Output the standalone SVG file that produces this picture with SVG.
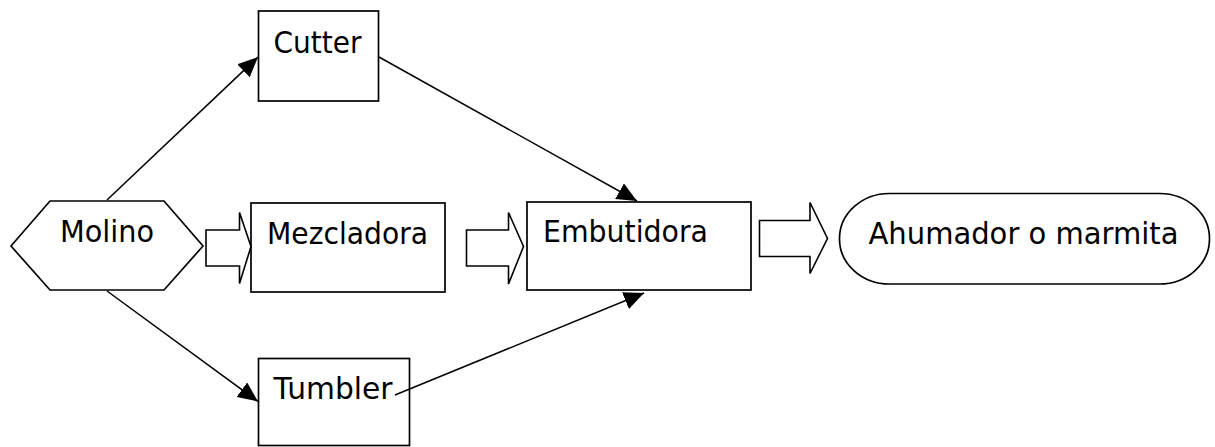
<svg xmlns="http://www.w3.org/2000/svg" width="1215" height="447" viewBox="0 0 1215 447">
<style>
.n{fill:#fff;stroke:#000;stroke-width:1.7}
.t{font-family:"DejaVu Sans",Verdana,sans-serif;font-size:31px;fill:#000}
.c{fill:none;stroke:#000;stroke-width:1.5}
.b{fill:#fff;stroke:#000;stroke-width:1.6;stroke-linejoin:miter}
</style>
<defs>
<marker id="ah" viewBox="0 0 20 18" refX="20" refY="9" markerWidth="20" markerHeight="18" markerUnits="userSpaceOnUse" orient="auto">
<path d="M0,0 L20,9 L0,18 z" fill="#000"/>
</marker>
</defs>
<rect width="1215" height="447" fill="#fff"/>
<g id="molino">
<polygon class="n" points="11,246 50,201 164,201 203,246 164,290 50,290"/>
<text class="t" x="60" y="242" textLength="94" lengthAdjust="spacingAndGlyphs">Molino</text>
</g>
<g id="cutter">
<rect class="n" x="258.5" y="11" width="120" height="90"/>
<text class="t" x="273.5" y="52.5" textLength="88" lengthAdjust="spacingAndGlyphs">Cutter</text>
</g>
<g id="mezcladora">
<rect class="n" x="251" y="203" width="194" height="89"/>
<text class="t" x="267" y="244" textLength="161" lengthAdjust="spacingAndGlyphs">Mezcladora</text>
</g>
<g id="tumbler">
<rect class="n" x="258.5" y="358.5" width="151" height="87"/>
<text class="t" x="273.5" y="398.5" textLength="119" lengthAdjust="spacingAndGlyphs">Tumbler</text>
</g>
<g id="embutidora">
<rect class="n" x="527" y="202" width="224" height="88"/>
<text class="t" x="543" y="242" textLength="165" lengthAdjust="spacingAndGlyphs">Embutidora</text>
</g>
<g id="ahumador">
<rect class="n" x="839.5" y="193.5" width="370" height="90.5" rx="50" ry="45"/>
<text class="t" x="868.5" y="244" textLength="310" lengthAdjust="spacingAndGlyphs">Ahumador o marmita</text>
</g>
<g id="connectors">
<line class="c" x1="107" y1="200" x2="258" y2="57" marker-end="url(#ah)"/>
<line class="c" x1="107" y1="291" x2="258" y2="401.5" marker-end="url(#ah)"/>
<line class="c" x1="379" y1="57" x2="637" y2="201" marker-end="url(#ah)"/>
<line class="c" x1="395" y1="395" x2="644" y2="293" marker-end="url(#ah)"/>
<polygon class="b" points="206,230 239.5,230 239.5,212.5 251,246.5 239.5,283.5 239.5,266 206,266"/>
<polygon class="b" points="466.5,230 508.5,230 508.5,212.5 523.5,246.5 508.5,284 508.5,266 466.5,266"/>
<polygon class="b" points="759.5,220.5 810,220.5 810,202.5 827.5,238.5 810,273.5 810,256.5 759.5,256.5"/>
</g>
</svg>
